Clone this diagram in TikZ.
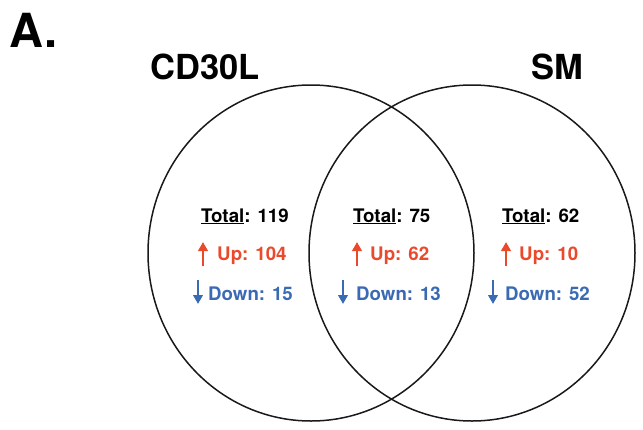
\documentclass[tikz,border=0pt]{standalone}
\usepackage{fontspec}
\setmainfont{TeX Gyre Heros}
\usetikzlibrary{arrows.meta}
\definecolor{upred}{RGB}{234,74,44}
\definecolor{downblue}{RGB}{58,106,180}
\tikzset{
  setcircle/.style={draw=black!90, line width=1.5pt},
  countlbl/.style={anchor=base west, inner sep=0pt, font=\fontsize{18.7}{20}\selectfont\bfseries},
  uplbl/.style={countlbl, text=upred},
  downlbl/.style={countlbl, text=downblue},
  setname/.style={anchor=base west, inner sep=0pt, font=\fontsize{34.5}{36}\selectfont\bfseries},
  uparrow/.style={draw=upred, line width=2.3pt, -{Triangle[width=9.5pt,length=9pt]}},
  downarrow/.style={draw=downblue, line width=2.3pt, -{Triangle[width=9.5pt,length=9pt]}}
}
\begin{document}
\begin{tikzpicture}[x=1pt, y=-1pt]
\useasboundingbox (0,0) rectangle (643,429);

% panel letter
\node[anchor=base west, inner sep=0pt, font=\fontsize{47}{48}\selectfont\bfseries] (panel) at (9,47) {A.};

% set names
\node[setname] (cdname) at (150,79) {CD30L};
\node[setname] (smname) at (531,79) {SM};

% the two sets
\draw[setcircle] (311,253) ellipse [x radius=163, y radius=168];
\draw[setcircle] (472,253) ellipse [x radius=163, y radius=168];

% CD30L only
\node[countlbl] (totA) at (201,222) {\underline{Total}: 119};
\coordinate (uaA0) at (203,266); \coordinate (uaA1) at (203,242);
\draw[uparrow] (uaA0) -- (uaA1);
\node[uplbl] (upA) at (217,260) {Up: 104};
\coordinate (daA0) at (198,280); \coordinate (daA1) at (198,304);
\draw[downarrow] (daA0) -- (daA1);
\node[downlbl] (dnA) at (208,300) {Down: 15};

% overlap
\node[countlbl] (totB) at (353,222) {\underline{Total}: 75};
\coordinate (uaB0) at (357,266); \coordinate (uaB1) at (357,242);
\draw[uparrow] (uaB0) -- (uaB1);
\node[uplbl] (upB) at (370,260) {Up: 62};
\coordinate (daB0) at (343,280); \coordinate (daB1) at (343,304);
\draw[downarrow] (daB0) -- (daB1);
\node[downlbl] (dnB) at (356,300) {Down: 13};

% SM only
\node[countlbl] (totC) at (502,222) {\underline{Total}: 62};
\coordinate (uaC0) at (506,266); \coordinate (uaC1) at (506,242);
\draw[uparrow] (uaC0) -- (uaC1);
\node[uplbl] (upC) at (519,260) {Up: 10};
\coordinate (daC0) at (493,280); \coordinate (daC1) at (493,304);
\draw[downarrow] (daC0) -- (daC1);
\node[downlbl] (dnC) at (505,300) {Down: 52};
\end{tikzpicture}
\end{document}
